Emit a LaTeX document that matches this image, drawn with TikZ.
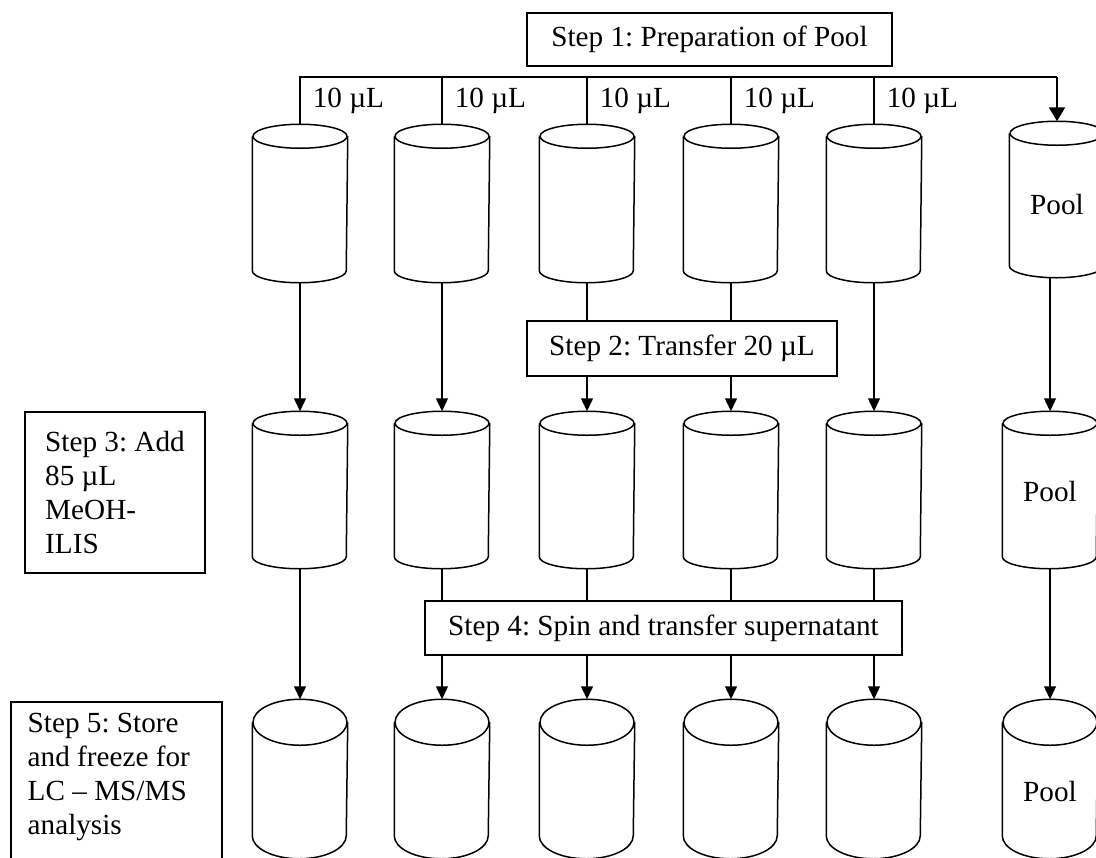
\documentclass[tikz,border=0pt]{standalone}
\usepackage{fontspec}
\setmainfont{Liberation Serif}
\usetikzlibrary{arrows.meta}

\begin{document}
\begin{tikzpicture}[>={Triangle[length=6.5pt,width=6pt]}, x=0.5pt, y=-0.5pt, line width=0.75pt,
    every node/.style={font=\fontsize{14.6}{17}\selectfont\frenchspacing}]
	\tikzstyle{tube} = [minimum width=47pt, minimum height=78.5pt, inner sep=0pt]
	\tikzstyle{stepbox} = [draw, fill=white, inner sep=0pt]
	\tikzstyle{vol} = [anchor=west, inner sep=0pt]

	\useasboundingbox (0,0) rectangle (1096,857);

	% sample tubes, three rows
	\foreach \i/\x in {1/300, 2/442, 3/587, 4/731, 5/874} {
		\node[tube] (a\i) at (\x,203.5) {};
		\node[tube, minimum height=78pt] (b\i) at (\x,490) {};
		\node[tube, minimum height=79pt] (c\i) at (\x,779) {};
		\node[vol] (v\i) at ({\x+12},101) {10 µL};
	}
	\node[tube, minimum height=77.5pt, text height=15pt, text depth=0pt] (pool1) at (1057,199.5) {Pool};
	\node[tube, minimum height=78pt, text height=11.5pt, text depth=0pt] (pool2) at (1050,490) {Pool};
	\node[tube, minimum height=79pt, text height=22.5pt, text depth=0pt] (pool3) at (1050,779) {Pool};

	\foreach \t in {a1,a2,a3,a4,a5,pool1,b1,b2,b3,b4,b5,pool2} {
		\draw ([yshift=-6pt]\t.north) ellipse [x radius=23.5pt, y radius=6pt];
		\draw ([yshift=-6pt]\t.north west) -- ([yshift=6pt]\t.south west)
			arc [start angle=180, end angle=360, x radius=23.5pt, y radius=6pt] -- ([yshift=-6pt]\t.north east);
	}
	\foreach \t in {c1,c2,c3,c4,c5,pool3} {
		\draw ([yshift=-11.5pt]\t.north) ellipse [x radius=23.5pt, y radius=11.5pt];
		\draw ([yshift=-11.5pt]\t.north west) -- ([yshift=11.5pt]\t.south west)
			arc [start angle=180, end angle=360, x radius=23.5pt, y radius=11.5pt] -- ([yshift=-11.5pt]\t.north east);
	}

	% step boxes
	\node[stepbox, minimum width=182.5pt, minimum height=26.5pt] (step1) at (709.5,39.5) {Step 1: Preparation of Pool};
	\node[stepbox, minimum width=155pt, minimum height=27.5pt] (step2) at (682,348.5) {Step 2: Transfer 20 µL};
	\node[stepbox, minimum width=90pt, minimum height=80.5pt, align=left] (step3) at (115,492.5) {Step 3: Add\\85 µL\\MeOH-\\ILIS};
	\node[stepbox, minimum width=238.5pt, minimum height=27pt] (step4) at (663.5,628) {Step 4: Spin and transfer supernatant};
	\node[stepbox, anchor=north west, text width=88.5pt, inner xsep=8.5pt, inner ysep=5.5pt,
		text height=10pt, text depth=64pt, align=flush left] (step5) at (10,701) {Step 5: Store\\and freeze for\\LC – MS/MS\\analysis};

	% step 1: pooling
	\coordinate (bar) at (300,77);
	\coordinate (barend) at (1057,77);
	\draw (a1.north) -- (bar) -- (barend);
	\draw[-{Triangle[length=7pt,width=8pt]}, line width=1.1pt] (barend) -- (pool1.north);
	\foreach \i in {2,...,5}
		\draw (a\i.north) -- (a\i.north |- bar);

	% step 2: transfer
	\foreach \i in {1,2,5}
		\draw[->] (a\i.south) -- (b\i.north);
	\foreach \i in {3,4} {
		\draw (a\i.south) -- (a\i.south |- step2.north);
		\draw[->] (a\i.south |- step2.south) -- (b\i.north);
	}
	\draw[->] (pool2.north |- pool1.south) -- (pool2.north);

	% step 4: spin and transfer
	\draw[->] (b1.south) -- (c1.north);
	\foreach \i in {2,...,5} {
		\draw (b\i.south) -- (b\i.south |- step4.north);
		\draw[->] (b\i.south |- step4.south) -- (c\i.north);
	}
	\draw[->] (pool3.north |- pool2.south) -- (pool3.north);

\end{tikzpicture}
\end{document}
